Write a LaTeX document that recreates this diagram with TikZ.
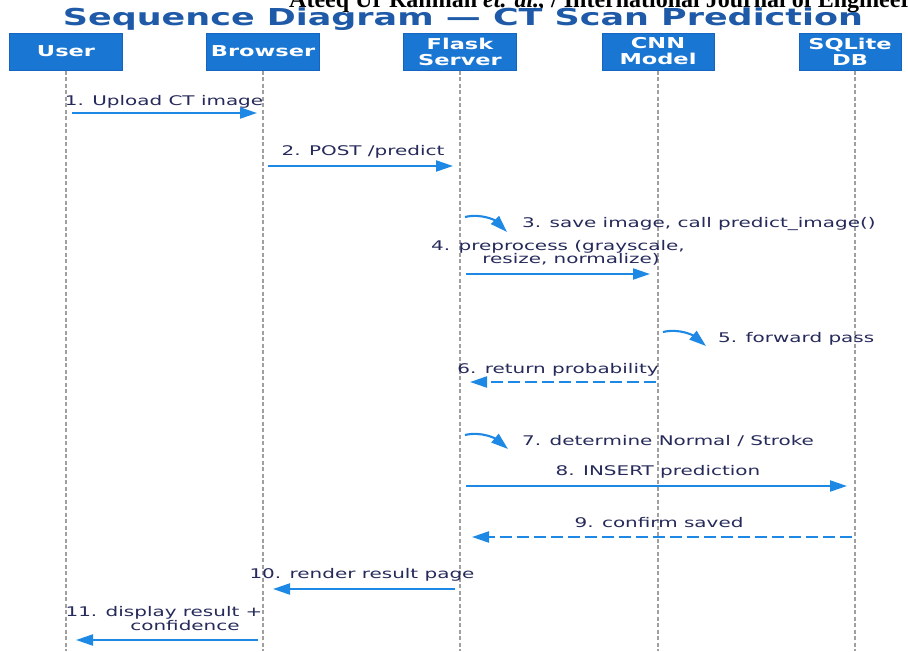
\documentclass[tikz,border=0pt]{standalone}
\usepackage{fontspec}
\setmainfont{DejaVu Sans}
\newfontfamily\dv[FakeStretch=1.5]{DejaVu Sans}
\newfontfamily\hdrfont{Liberation Serif}
\usetikzlibrary{arrows.meta}
\definecolor{boxfill}{HTML}{1976D2}
\definecolor{boxborder}{HTML}{1565C0}
\definecolor{titleblue}{HTML}{1E5AA8}
\definecolor{arrowblue}{HTML}{1E88E5}
\definecolor{labelnavy}{HTML}{262A5A}
\definecolor{lifegray}{HTML}{A0A0A0}
\begin{document}
\begin{tikzpicture}[x=1pt,y=-1pt,
  actor/.style={draw=boxborder, line width=1pt, fill=boxfill, minimum height=37pt,
    inner sep=0pt, text=white, font=\dv\bfseries\fontsize{15}{16}\selectfont, align=center},
  life/.style={draw=lifegray, line width=1.5pt, dash pattern=on 4pt off 2.5pt},
  msg/.style={draw=arrowblue, line width=2.1pt, -{Triangle[length=17pt,width=11pt]}},
  reply/.style={msg, dash pattern=on 12pt off 5pt},
  lbl/.style={text=labelnavy, font=\dv\fontsize{13.3}{14}\selectfont, anchor=base,
    inner sep=0pt, align=center}
]
\useasboundingbox (0,0) rectangle (908,651);
\clip (0,0) rectangle (908,651);
\fill[white] (0,0) rectangle (908,651);

% header and title
\node[anchor=base west, inner sep=0pt, font=\hdrfont\bfseries\fontsize{24}{24}\selectfont]
  (hdr) at (289,7.5) {Ateeq Ur Rahman \textit{et. al.,} / International Journal of Engineering};
\node[anchor=base, inner sep=0pt, text=titleblue, font=\dv\bfseries\fontsize{23.3}{24}\selectfont]
  (title) at (463,25) {Sequence Diagram — CT Scan Prediction};

% actors
\node[actor, minimum width=113pt] (u) at (66,51.5) {User};
\node[actor, minimum width=113pt] (b) at (263,51.5) {Browser};
\node[actor, minimum width=113pt] (f) at (460,51.5) {Flask\\Server};
\node[actor, minimum width=112pt] (c) at (658,51.5) {CNN\\Model};
\node[actor, minimum width=102pt] (s) at (850,51.5) {SQLite\\DB};

% lifeline ends
\coordinate (ue) at (66,651);
\coordinate (be) at (263,651);
\coordinate (fe) at (460,651);
\coordinate (ce) at (658,651);
\coordinate (se) at (855,651);
\draw[life] (u.south) -- (ue);
\draw[life] (b.south) -- (be);
\draw[life] (f.south) -- (fe);
\draw[life] (c.south) -- (ce);
\draw[life] (s.south -| se) -- (se);

% message end points
\coordinate (m1a) at (72,113);   \coordinate (m1b) at (257,113);
\coordinate (m2a) at (268,166);  \coordinate (m2b) at (453,166);
\coordinate (m3a) at (465,217);  \coordinate (m3b) at (507,232);
\coordinate (m4a) at (466,274);  \coordinate (m4b) at (650,274);
\coordinate (m5a) at (663,332);  \coordinate (m5b) at (706,346);
\coordinate (m6a) at (656,382);  \coordinate (m6b) at (470,382);
\coordinate (m7a) at (465,435);  \coordinate (m7b) at (508,449);
\coordinate (m8a) at (466,486);  \coordinate (m8b) at (847,486);
\coordinate (m9a) at (852,537);  \coordinate (m9b) at (472,537);
\coordinate (m10a) at (455,589); \coordinate (m10b) at (273,589);
\coordinate (m11a) at (258,640); \coordinate (m11b) at (76,640);

% messages
\draw[msg] (m1a) -- (m1b);
\node[lbl] (l1) at (164,105) {1. Upload CT image};
\draw[msg] (m2a) -- (m2b);
\node[lbl] (l2) at (363,155) {2. POST /predict};
\draw[msg] (m3a) .. controls (482,213) and (496,221) .. (m3b);
\node[lbl, anchor=base west] (l3) at (522,227) {3. save image, call predict\_image()};
\draw[msg] (m4a) -- (m4b);
\node[lbl] (l4a) at (558,250) {4. preprocess (grayscale,};
\node[lbl] (l4b) at (571,263) {resize, normalize)};
\draw[msg] (m5a) .. controls (680,328) and (694,336) .. (m5b);
\node[lbl, anchor=base west] (l5) at (718,342) {5. forward pass};
\draw[reply] (m6a) -- (m6b);
\node[lbl] (l6) at (558,373) {6. return probability};
\draw[msg] (m7a) .. controls (482,431) and (496,439) .. (m7b);
\node[lbl, anchor=base west] (l7) at (522,445) {7. determine Normal / Stroke};
\draw[msg] (m8a) -- (m8b);
\node[lbl] (l8) at (658,475) {8. INSERT prediction};
\draw[reply] (m9a) -- (m9b);
\node[lbl] (l9) at (659,527) {9. confirm saved};
\draw[msg] (m10a) -- (m10b);
\node[lbl] (l10) at (362,578) {10. render result page};
\draw[msg] (m11a) -- (m11b);
\node[lbl] (l11a) at (164,616) {11. display result +};
\node[lbl] (l11b) at (185,630) {confidence};
\end{tikzpicture}
\end{document}
